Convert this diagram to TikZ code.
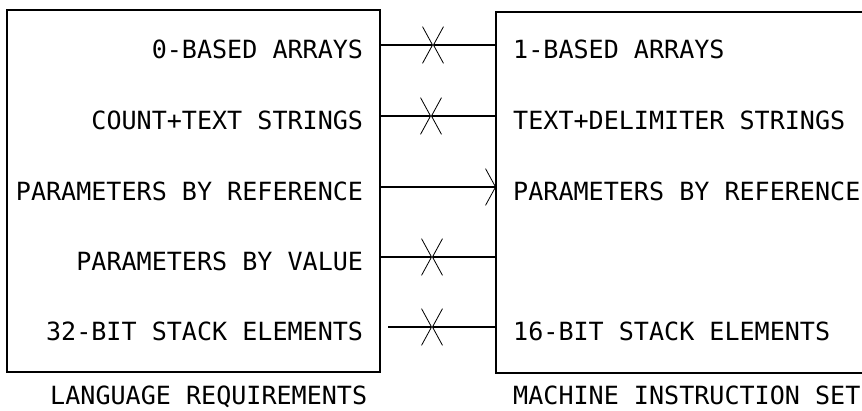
\documentclass[tikz,border=0pt]{standalone}
\usepackage{fontspec}
\setmonofont{DejaVu Sans Mono}
\usetikzlibrary{arrows.meta, positioning}

\begin{document}
\begin{tikzpicture}[
    box/.style={rectangle, draw, line width=1pt},
    label/.style={inner sep=0pt, font=\ttfamily\fontsize{21.4}{24}\selectfont},
    arrow/.style={-{Straight Barb[length=0.3cm, width=1.1cm, line width=0.7pt]}, line width=1.3pt}
]
    \clip (0,0) rectangle (25.86,12.33);

    % the two blocks
    \node [box, minimum width=11.19cm, minimum height=10.86cm] (lang) at (5.805,6.6) {};
    \node [box, minimum width=12.5cm, minimum height=10.83cm] (mach) at (21.13,6.555) {};

    % language side
    \node [label, anchor=base east] (zero) at (10.9,10.58) {0-BASED ARRAYS};
    \node [label, anchor=base east] (count) at (10.9,8.45) {COUNT+TEXT STRINGS};
    \node [label, anchor=base east] (pref) at (10.9,6.32) {PARAMETERS BY REFERENCE};
    \node [label, anchor=base east] (pval) at (10.9,4.22) {PARAMETERS BY VALUE};
    \node [label, anchor=base east] (stk32) at (10.9,2.12) {32-BIT STACK ELEMENTS};
    \node [label, anchor=base west] (langcap) at (1.5,0.2) {LANGUAGE REQUIREMENTS};

    % machine side
    \node [label, anchor=base west] (one) at (15.39,10.58) {1-BASED ARRAYS};
    \node [label, anchor=base west] (delim) at (15.39,8.45) {TEXT+DELIMITER STRINGS};
    \node [label, anchor=base west] (mref) at (15.39,6.32) {PARAMETERS BY REFERENCE};
    \node [label, anchor=base west] (stk16) at (15.39,2.12) {16-BIT STACK ELEMENTS};
    \node [label, anchor=base west] (machcap) at (15.39,0.2) {MACHINE INSTRUCTION SET};

    % ends of the links
    \coordinate (l1) at (11.4,10.98);
    \coordinate (l2) at (11.4,8.85);
    \coordinate (l3) at (11.4,6.72);
    \coordinate (l4) at (11.4,4.62);
    \coordinate (l5) at (11.64,2.52);
    \coordinate (r1) at (14.88,10.98);
    \coordinate (r2) at (14.88,8.85);
    \coordinate (r3) at (14.88,6.72);
    \coordinate (r4) at (14.88,4.62);
    \coordinate (r5) at (14.88,2.52);
    \coordinate (x1) at (12.99,10.98);
    \coordinate (x2) at (12.93,8.85);
    \coordinate (x4) at (12.96,4.62);
    \coordinate (x5) at (12.96,2.52);

    \draw [arrow] (l1) -- (x1);
    \draw [arrow] (r1) -- (x1);
    \draw [arrow] (l2) -- (x2);
    \draw [arrow] (r2) -- (x2);
    \draw [arrow] (l3) -- (r3);
    \draw [arrow] (l4) -- (x4);
    \draw [arrow] (r4) -- (x4);
    \draw [arrow] (l5) -- (x5);
    \draw [arrow] (r5) -- (x5);
\end{tikzpicture}
\end{document}
